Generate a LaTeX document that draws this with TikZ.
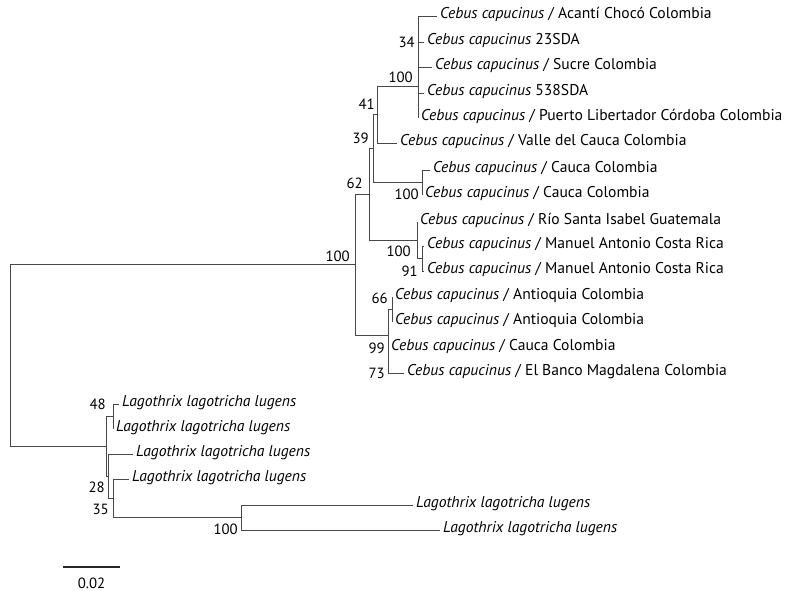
\documentclass[tikz,border=0pt]{standalone}
\usepackage{fontspec}
\setmainfont{PT Sans}
\begin{document}
\begin{tikzpicture}[x=1pt,y=-1pt,
  br/.style={draw=black!72,line width=0.8pt},
  leaf/.style={anchor=west,inner sep=0pt,xshift=3pt,font=\fontsize{15.6}{17}\selectfont,text height=1.5ex,text depth=.4ex},
  bs/.style={anchor=east,inner sep=0pt,font=\fontsize{14.8}{16}\selectfont}]
\useasboundingbox (0,0) rectangle (789,591);
% leaf tips
\coordinate (t1) at (437,16);
\coordinate (t2) at (424,42);
\coordinate (t3) at (432,67);
\coordinate (t4) at (424,93);
\coordinate (t5) at (418,118);
\coordinate (t6) at (397,143);
\coordinate (t7) at (430,170);
\coordinate (t8) at (422,195);
\coordinate (t9) at (417,222);
\coordinate (t10) at (424,246);
\coordinate (t11) at (424,271);
\coordinate (t12) at (392,297);
\coordinate (t13) at (392,322);
\coordinate (t14) at (388,348);
\coordinate (t15) at (404,373);
\coordinate (t16) at (119,404);
\coordinate (t17) at (113,429);
\coordinate (t18) at (133,454);
\coordinate (t19) at (129,479);
\coordinate (t20) at (413,505);
\coordinate (t21) at (440,530);
% leaf labels
\newcommand{\myCC}{\textit{Cebus capucinus}}
\newcommand{\myLL}{\textit{Lagothrix lagotricha lugens}}
\node[leaf] (l1) at (t1) {\myCC{} / Acantí Chocó Colombia};
\node[leaf] (l2) at (t2) {\myCC{} 23SDA};
\node[leaf] (l3) at (t3) {\myCC{} / Sucre Colombia};
\node[leaf] (l4) at (t4) {\myCC{} 538SDA};
\node[leaf] (l5) at (t5) {\myCC{} / Puerto Libertador Córdoba Colombia};
\node[leaf] (l6) at (t6) {\myCC{} / Valle del Cauca Colombia};
\node[leaf] (l7) at (t7) {\myCC{} / Cauca Colombia};
\node[leaf] (l8) at (t8) {\myCC{} / Cauca Colombia};
\node[leaf] (l9) at (t9) {\myCC{} / Río Santa Isabel Guatemala};
\node[leaf] (l10) at (t10) {\myCC{} / Manuel Antonio Costa Rica};
\node[leaf] (l11) at (t11) {\myCC{} / Manuel Antonio Costa Rica};
\node[leaf] (l12) at (t12) {\myCC{} / Antioquia Colombia};
\node[leaf] (l13) at (t13) {\myCC{} / Antioquia Colombia};
\node[leaf] (l14) at (t14) {\myCC{} / Cauca Colombia};
\node[leaf] (l15) at (t15) {\myCC{} / El Banco Magdalena Colombia};
\node[leaf] (l16) at (t16) {\myLL};
\node[leaf] (l17) at (t17) {\myLL};
\node[leaf] (l18) at (t18) {\myLL};
\node[leaf] (l19) at (t19) {\myLL};
\node[leaf] (l20) at (t20) {\myLL};
\node[leaf] (l21) at (t21) {\myLL};
% internal nodes
\coordinate (n34) at (418,54.5);
\coordinate (n100a) at (418,86);
\coordinate (n41) at (377,114.5);
\coordinate (n100b) at (422,182.5);
\coordinate (n39) at (373,148.5);
\coordinate (n91) at (422,258.5);
\coordinate (n100c) at (417,240);
\coordinate (n62) at (369,194);
\coordinate (n66) at (392,309.5);
\coordinate (n73) at (388,360.5);
\coordinate (n99) at (388,335);
\coordinate (nceb) at (355,264.5);
\coordinate (n48) at (113,416.5);
\coordinate (n100d) at (241,517.5);
\coordinate (n35) at (113,498);
\coordinate (n28) at (108,476);
\coordinate (nlag) at (106,446);
\coordinate (root) at (10,355);
% branches
\draw[br] (n34) |- (t1); \draw[br] (n34) |- (t2); \draw[br] (n34) |- (t3); \draw[br] (n34) |- (t4);
\draw[br] (n100a) |- (n34); \draw[br] (n100a) |- (t5);
\draw[br] (n41) |- (n100a); \draw[br] (n41) |- (t6);
\draw[br] (n100b) |- (t7); \draw[br] (n100b) |- (t8);
\draw[br] (n39) |- (n41); \draw[br] (n39) |- (n100b);
\draw[br] (n91) |- (t10); \draw[br] (n91) |- (t11);
\draw[br] (n100c) |- (t9); \draw[br] (n100c) |- (n91);
\draw[br] (n62) |- (n39); \draw[br] (n62) |- (n100c);
\draw[br] (n66) |- (t12); \draw[br] (n66) |- (t13);
\draw[br] (n73) |- (t14); \draw[br] (n73) |- (t15);
\draw[br] (n99) |- (n66); \draw[br] (n99) |- (n73);
\draw[br] (nceb) |- (n62); \draw[br] (nceb) |- (n99);
\draw[br] (n48) |- (t16); \draw[br] (n48) |- (t17);
\draw[br] (n100d) |- (t20); \draw[br] (n100d) |- (t21);
\draw[br] (n35) |- (t19); \draw[br] (n35) |- (n100d);
\draw[br] (n28) |- (t18); \draw[br] (n28) |- (n35);
\draw[br] (nlag) |- (n48); \draw[br] (nlag) |- (n28);
\draw[br] (root) |- (nceb); \draw[br] (root) |- (nlag);
% bootstrap values
\node[bs] (b34) at (415,42) {34};
\node[bs] (b100a) at (413,77) {100};
\node[bs] (b41) at (375,104) {41};
\node[bs] (b39) at (369,138) {39};
\node[bs] (b62) at (363,183) {62};
\node[bs] (b100b) at (419,194) {100};
\node[bs] (b100m) at (350,256) {100};
\node[bs] (b100c) at (411,251) {100};
\node[bs] (b91) at (418,271) {91};
\node[bs] (b66) at (388,298) {66};
\node[bs] (b99) at (385,348) {99};
\node[bs] (b73) at (385,373) {73};
\node[bs] (b48) at (106,404) {48};
\node[bs] (b28) at (105,487) {28};
\node[bs] (b35) at (109,509) {35};
\node[bs] (b100d) at (238,529) {100};
% scale bar
\coordinate (s1) at (63,567);
\coordinate (s2) at (120,567);
\draw[line width=2pt,black!85] (s1) -- (s2);
\node[font=\fontsize{14.8}{16}\selectfont,inner sep=0pt] (sl) at (91.5,583) {0.02};
\end{tikzpicture}
\end{document}
